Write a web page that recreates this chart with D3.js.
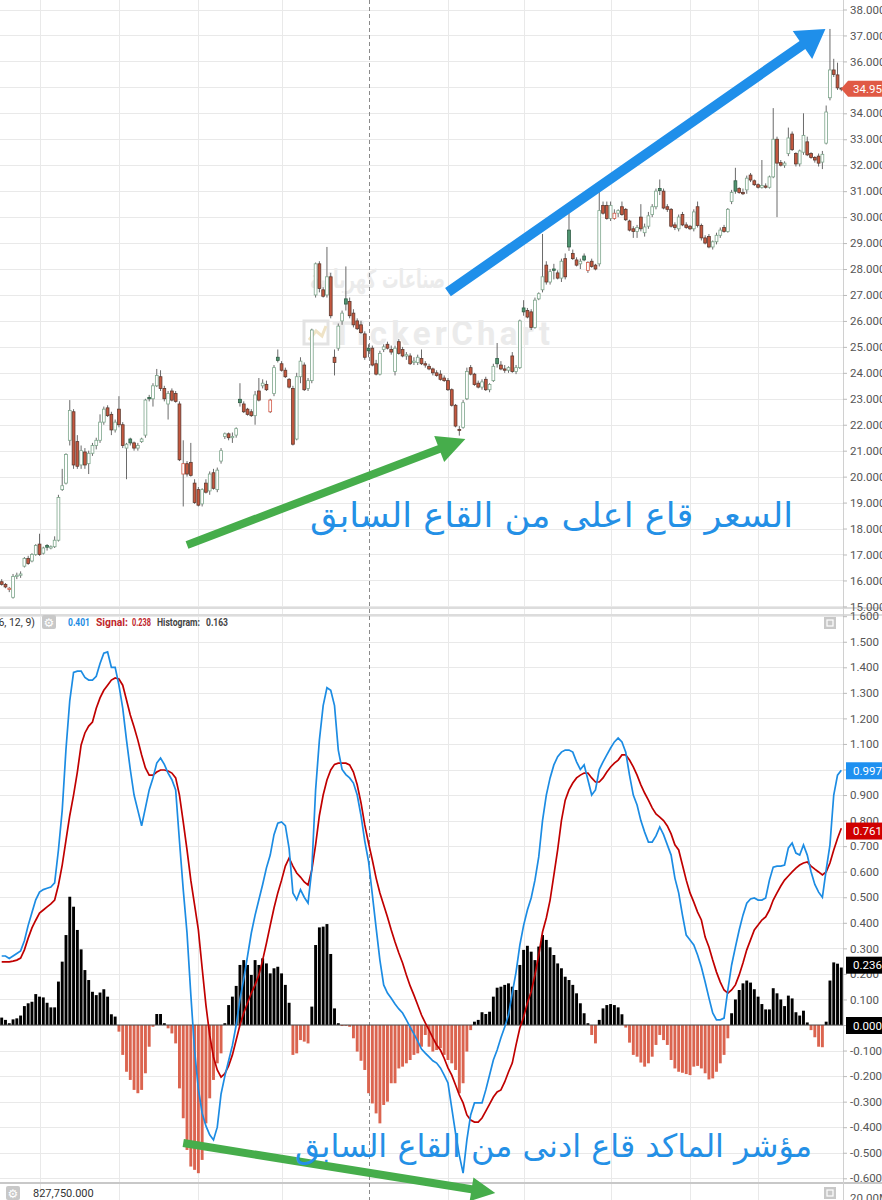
<!DOCTYPE html>
<html>
<head>
<meta charset="utf-8">
<script src="https://d3js.org/d3.v7.min.js"></script>
<style>
  body { margin: 0; background: #fff; }
  svg { display: block; font-family: Roboto, "DejaVu Sans", sans-serif; }
</style>
</head>
<body>
<svg id="chart" width="882" height="1200"></svg>
<script>
// daily candles [open, high, low, close]
var ohlc = [
  [15.95,16.05,15.8,15.85],[15.85,15.9,15.7,15.75],[15.65,15.75,15.55,15.7],[15.35,16.25,15.3,16.15],[16.15,16.3,16.05,16.2],
  [16.2,16.35,16.1,16.25],[16.55,16.9,16.5,16.85],[16.85,16.95,16.6,16.65],[16.75,17.05,16.7,17.0],[17.0,17.4,16.95,17.35],
  [17.4,17.8,16.95,17.0],[17.05,17.3,17.0,17.25],[17.35,17.4,17.15,17.28],[17.25,17.35,17.2,17.3],[17.3,17.7,17.25,17.55],
  [17.55,19.3,17.5,19.2],[19.5,20.3,19.45,19.65],[19.75,20.9,19.7,20.85],[21.4,22.95,21.2,22.55],[22.5,22.6,20.3,20.45],
  [21.35,21.6,20.3,20.4],[20.45,21.2,20.3,21.0],[20.95,21.1,20.3,20.45],[20.5,21.0,20.1,20.9],[20.9,21.3,20.8,21.2],
  [21.2,21.5,21.05,21.4],[21.4,22.4,21.3,22.1],[22.1,22.7,22.0,22.6],[22.65,22.75,22.3,22.35],[22.4,22.5,21.6,21.8],
  [21.8,22.2,21.7,22.1],[22.6,23.1,21.9,22.0],[22.0,22.1,21.1,21.2],[21.1,21.3,19.9,21.25],[21.45,21.5,21.2,21.3],
  [21.3,21.35,21.0,21.1],[21.1,21.3,21.0,21.2],[21.35,21.5,21.3,21.45],[21.6,23.0,21.5,22.95],[23.05,23.15,22.9,23.0],
  [23.0,23.6,22.7,23.5],[23.5,24.15,23.45,23.9],[23.85,24.1,23.3,23.4],[23.4,23.5,22.9,23.0],[22.8,23.3,22.2,23.2],
  [23.3,23.4,22.9,22.95],[23.2,23.3,22.85,22.9],[22.8,22.9,20.6,20.65],[20.1,21.4,18.85,20.5],[20.5,20.6,20.0,20.1],
  [20.55,21.3,20.0,20.05],[19.75,19.9,18.95,19.0],[19.5,19.6,18.85,18.9],[18.95,19.55,18.85,19.5],[19.75,19.9,19.35,19.4],
  [19.45,20.2,19.3,20.1],[20.15,20.3,19.5,19.55],[19.5,20.35,19.4,20.25],[20.6,21.1,20.5,21.0],[21.55,21.7,21.45,21.65],
  [21.65,21.7,21.4,21.5],[21.5,21.7,21.3,21.55],[21.6,21.9,21.5,21.85],[22.98,23.6,22.7,22.85],[22.8,22.9,22.45,22.5],
  [22.6,22.65,22.35,22.4],[22.5,22.6,22.3,22.35],[22.35,23.3,22.0,23.15],[23.3,23.8,22.9,22.95],[23.5,23.75,23.4,23.6],
  [23.55,23.7,23.3,23.35],[22.5,23.0,22.45,22.95],[23.2,24.3,23.1,24.2],[24.6,24.9,24.4,24.48],[24.35,24.45,24.05,24.1],
  [24.1,24.2,23.8,23.85],[23.75,23.8,23.4,23.45],[23.4,23.5,21.2,21.25],[21.45,24.0,21.4,23.85],[23.85,24.6,23.6,24.45],
  [24.3,24.4,23.3,23.35],[23.4,23.8,23.3,23.7],[23.7,25.7,23.6,25.65],[27.0,28.25,26.9,28.2],[28.2,28.3,27.1,27.25],
  [27.2,27.3,26.9,26.95],[27.0,28.85,26.9,27.7],[27.7,27.85,26.1,26.2],[24.6,24.9,23.9,24.4],[24.95,25.9,24.85,25.8],
  [26.0,26.4,25.85,26.3],[26.85,28.1,26.4,26.65],[26.75,26.9,26.1,26.2],[26.3,26.45,25.75,25.85],[26.0,26.1,25.65,25.7],
  [25.85,26.0,25.5,25.55],[25.5,25.6,24.5,24.6],[24.95,25.1,24.6,24.85],[24.95,25.05,24.25,24.3],[24.35,24.5,23.9,23.95],
  [23.95,24.85,23.9,24.75],[24.9,25.1,24.8,25.0],[25.1,25.2,24.9,24.95],[24.9,25.05,24.7,24.8],[24.05,25.05,23.9,24.95],
  [25.2,25.3,24.7,24.75],[24.9,25.0,24.6,24.65],[24.65,24.8,24.5,24.7],[24.65,24.75,24.3,24.35],[24.4,24.6,24.3,24.45],
  [24.4,24.7,24.3,24.6],[24.55,24.9,24.3,24.35],[24.35,24.45,24.2,24.3],[24.25,24.35,24.1,24.15],[24.15,24.2,23.9,24.0],
  [24.0,24.1,23.85,23.9],[23.95,24.1,23.7,23.75],[23.8,23.9,23.65,23.7],[23.7,23.8,23.3,23.35],[23.35,23.4,22.7,22.75],
  [22.75,22.8,21.9,21.95],[21.82,21.95,21.58,21.8],[21.9,22.95,21.85,22.85],[23.0,24.2,22.95,24.05],[24.2,24.3,23.9,23.95],
  [23.95,24.0,23.5,23.55],[23.6,23.7,23.4,23.45],[23.45,23.75,23.35,23.65],[23.75,23.85,23.3,23.35],[23.35,23.6,23.25,23.55],
  [23.7,24.35,23.65,24.25],[24.55,25.15,24.2,24.35],[24.3,24.45,24.1,24.15],[24.15,24.3,24.0,24.1],[24.1,24.25,24.0,24.2],
  [24.65,24.8,24.0,24.05],[24.05,24.3,23.95,24.2],[24.2,26.05,24.15,26.0],[26.5,26.8,26.2,26.35],[26.4,26.5,26.1,26.15],
  [26.35,26.45,25.65,25.75],[25.75,26.9,25.7,26.8],[26.85,27.1,26.8,27.05],[27.2,29.35,27.1,27.7],[28.15,28.3,27.4,27.5],
  [27.5,28.0,27.4,27.9],[28.0,28.2,27.6,27.95],[27.85,27.95,27.6,27.65],[27.65,28.4,27.5,28.3],[28.4,28.6,27.6,27.7],
  [29.5,30.2,28.7,28.85],[28.6,28.75,28.35,28.4],[28.35,28.45,28.1,28.15],[28.2,28.4,28.0,28.3],[28.5,28.6,28.3,28.35],
  [27.95,28.3,27.85,28.25],[28.3,28.4,28.05,28.1],[28.15,28.2,27.95,28.0],[28.2,31.1,28.1,30.25],[30.45,30.6,30.1,30.15],
  [30.45,30.6,29.9,29.95],[29.95,30.6,29.85,30.45],[29.95,30.3,29.9,30.15],[30.15,30.3,30.0,30.25],[30.4,30.6,30.05,30.1],
  [30.3,30.35,29.85,29.9],[29.85,29.9,29.45,29.5],[29.55,29.65,29.2,29.45],[29.45,29.7,29.2,29.6],[30.0,30.5,29.45,29.55],
  [29.4,29.75,29.25,29.62],[29.65,30.2,29.55,30.05],[30.1,30.5,30.0,30.4],[30.4,31.1,30.3,31.0],[31.1,31.45,30.85,31.02],
  [31.0,31.1,30.3,30.35],[30.4,30.5,30.2,30.3],[30.3,30.35,29.6,29.65],[29.7,29.8,29.5,29.6],[29.55,30.1,29.45,30.0],
  [30.1,30.2,29.65,29.7],[29.7,29.8,29.55,29.6],[29.65,29.7,29.5,29.55],[29.55,30.3,29.45,30.2],[30.4,30.6,29.6,29.68],
  [29.68,29.75,29.1,29.2],[29.2,29.3,28.95,29.0],[29.25,29.35,28.8,28.85],[28.85,29.1,28.75,29.05],[29.05,29.4,28.95,29.3],
  [29.3,29.6,29.2,29.5],[29.6,29.7,29.4,29.45],[29.45,30.35,29.4,30.3],[30.6,31.05,30.5,30.95],[31.4,31.9,30.9,31.0],
  [31.1,31.15,30.9,30.95],[30.95,31.1,30.85,30.9],[31.05,31.6,30.9,31.5],[31.62,31.7,31.35,31.43],[31.4,31.45,31.2,31.25],
  [31.25,31.3,31.1,31.15],[31.15,32.2,31.1,31.22],[31.2,31.3,31.1,31.15],[31.15,31.6,31.1,31.55],[31.55,34.2,31.5,33.0],
  [33.0,33.1,30.0,32.08],[32.1,32.2,31.95,32.0],[32.0,32.15,31.9,32.08],[32.45,33.45,32.35,33.05],[33.2,33.3,32.55,32.6],
  [32.45,32.5,31.95,32.05],[32.05,32.6,31.95,32.55],[32.5,34.0,32.4,33.15],[32.9,33.1,32.35,32.4],[32.45,32.5,32.25,32.3],
  [32.3,32.35,32.1,32.2],[32.35,32.45,31.95,32.08],[32.12,32.55,31.85,32.42],[32.85,34.3,32.8,34.05],[34.6,37.25,34.5,35.67],
  [35.67,36.1,35.4,35.5],[35.48,35.95,34.9,34.98],[34.97,35.0,34.85,34.95]
];

// MACD (26, 12, 9)
var macd = [
  0.27,0.27,0.26,0.27,0.28,0.29,0.33,0.39,0.44,0.49,
  0.52,0.53,0.535,0.54,0.556,0.685,0.84,1.08,1.27,1.38,
  1.385,1.385,1.36,1.35,1.35,1.365,1.415,1.455,1.46,1.40,
  1.40,1.33,1.24,1.115,1.00,0.90,0.84,0.78,0.85,0.92,
  0.967,1.025,1.045,1.02,0.986,0.96,0.92,0.72,0.53,0.36,
  0.12,-0.10,-0.25,-0.345,-0.395,-0.43,-0.45,-0.40,-0.27,-0.20,
  -0.14,-0.08,0.0,0.10,0.18,0.27,0.36,0.43,0.49,0.55,
  0.615,0.665,0.745,0.79,0.795,0.78,0.69,0.517,0.49,0.53,
  0.50,0.477,0.61,0.92,1.115,1.25,1.32,1.31,1.25,1.076,
  1.0,0.98,0.967,0.947,0.90,0.82,0.72,0.64,0.51,0.38,
  0.254,0.157,0.125,0.105,0.082,0.063,0.047,0.02,-0.008,-0.035,
  -0.063,-0.094,-0.11,-0.125,-0.14,-0.149,-0.168,-0.196,-0.227,-0.325,
  -0.423,-0.51,-0.58,-0.45,-0.352,-0.305,-0.305,-0.305,-0.254,-0.196,
  -0.137,-0.098,-0.05,-0.008,0.039,0.125,0.207,0.313,0.39,0.45,
  0.497,0.567,0.658,0.80,0.90,0.967,1.018,1.05,1.068,1.076,
  1.076,1.068,1.03,1.0,1.018,0.96,0.90,0.92,1.0,1.03,
  1.057,1.084,1.108,1.123,1.108,1.068,0.978,0.90,0.861,0.80,
  0.755,0.716,0.716,0.74,0.775,0.745,0.705,0.665,0.575,0.517,
  0.43,0.352,0.333,0.313,0.274,0.227,0.168,0.106,0.047,0.02,
  0.02,0.027,0.137,0.235,0.305,0.372,0.43,0.477,0.493,0.497,
  0.489,0.489,0.497,0.567,0.618,0.622,0.622,0.626,0.693,0.712,
  0.673,0.665,0.705,0.665,0.60,0.55,0.52,0.50,0.607,0.705,
  0.90,0.978,0.997
];

var signal = [
  0.247,0.247,0.247,0.25,0.254,0.262,0.294,0.34,0.38,0.41,
  0.438,0.45,0.462,0.474,0.489,0.548,0.626,0.724,0.82,0.90,
  0.99,1.096,1.143,1.17,1.186,1.24,1.28,1.31,1.33,1.35,
  1.358,1.354,1.33,1.272,1.213,1.166,1.115,1.057,1.006,0.978,
  0.978,0.99,0.998,0.998,0.994,0.986,0.967,0.90,0.795,0.685,
  0.567,0.47,0.372,0.223,0.078,-0.04,-0.125,-0.176,-0.204,-0.19,
  -0.16,-0.117,-0.059,0.0,0.047,0.086,0.125,0.157,0.196,0.254,
  0.32,0.39,0.458,0.517,0.567,0.622,0.654,0.622,0.595,0.579,
  0.56,0.548,0.607,0.705,0.82,0.90,0.959,0.998,1.02,1.025,
  1.025,1.025,1.018,0.99,0.94,0.87,0.783,0.712,0.646,0.575,
  0.517,0.47,0.423,0.372,0.325,0.282,0.243,0.196,0.153,0.117,
  0.078,0.039,0.008,-0.02,-0.05,-0.078,-0.098,-0.13,-0.168,-0.196,
  -0.235,-0.274,-0.305,-0.352,-0.372,-0.38,-0.38,-0.364,-0.337,-0.31,
  -0.282,-0.262,-0.254,-0.223,-0.184,-0.149,-0.078,-0.012,0.031,0.086,
  0.13,0.196,0.274,0.364,0.419,0.489,0.587,0.685,0.80,0.88,
  0.92,0.947,0.967,0.978,0.986,0.986,0.967,0.951,0.951,0.967,
  0.99,1.01,1.025,1.037,1.057,1.057,1.037,1.01,0.978,0.94,
  0.908,0.88,0.85,0.826,0.814,0.80,0.779,0.748,0.705,0.685,
  0.626,0.567,0.517,0.481,0.442,0.411,0.344,0.305,0.254,0.207,
  0.168,0.137,0.125,0.137,0.157,0.196,0.243,0.294,0.333,0.372,
  0.391,0.411,0.423,0.45,0.489,0.517,0.544,0.567,0.583,0.599,
  0.614,0.626,0.634,0.638,0.622,0.61,0.599,0.587,0.599,0.634,
  0.685,0.73,0.77
];

var hist = [
  0.029,0.02,0.007,0.022,0.026,0.037,0.074,0.085,0.091,0.121,
  0.111,0.108,0.087,0.069,0.069,0.17,0.248,0.352,0.502,0.463,
  0.372,0.296,0.215,0.176,0.13,0.117,0.127,0.14,0.111,0.042,
  0.033,-0.026,-0.117,-0.183,-0.215,-0.254,-0.267,-0.254,-0.189,-0.085,
  -0.007,0.043,0.043,0.007,-0.013,-0.033,-0.072,-0.248,-0.365,-0.489,
  -0.554,-0.567,-0.58,-0.528,-0.385,-0.287,-0.215,-0.15,-0.111,0.007,
  0.078,0.111,0.153,0.235,0.254,0.235,0.196,0.254,0.235,0.261,
  0.241,0.202,0.222,0.228,0.202,0.157,0.087,-0.117,-0.111,-0.059,
  -0.065,-0.072,0.072,0.313,0.382,0.385,0.395,0.278,0.065,0.007,
  -0.004,-0.003,-0.007,-0.052,-0.104,-0.14,-0.176,-0.267,-0.307,-0.346,
  -0.385,-0.313,-0.30,-0.228,-0.228,-0.17,-0.163,-0.15,-0.137,-0.117,
  -0.111,-0.085,-0.039,-0.085,-0.104,-0.098,-0.091,-0.117,-0.137,-0.15,
  -0.176,-0.267,-0.228,-0.104,-0.02,0.013,0.02,0.05,0.043,0.052,
  0.111,0.146,0.15,0.157,0.163,0.15,0.137,0.235,0.294,0.31,
  0.287,0.254,0.307,0.352,0.333,0.304,0.274,0.241,0.222,0.189,
  0.176,0.157,0.124,0.085,0.046,0.007,-0.039,-0.072,0.02,0.065,
  0.078,0.082,0.078,0.069,0.042,-0.01,-0.069,-0.117,-0.124,-0.147,
  -0.163,-0.15,-0.124,-0.078,-0.039,-0.059,-0.078,-0.137,-0.17,-0.183,
  -0.187,-0.192,-0.196,-0.163,-0.16,-0.17,-0.189,-0.213,-0.209,-0.183,
  -0.15,-0.117,-0.052,0.046,0.1,0.137,0.163,0.174,0.166,0.14,
  0.111,0.082,0.061,0.061,0.144,0.124,0.1,0.074,0.115,0.104,
  0.05,0.037,0.056,0.01,-0.02,-0.048,-0.085,-0.087,0.013,0.174,
  0.245,0.24,0.225
];

var priceTicks = [15,16,17,18,19,20,21,22,23,24,25,26,27,28,29,30,31,32,33,34,35,36,37,38];
var macdTicks = [-0.6,-0.5,-0.4,-0.3,-0.2,-0.1,0,0.1,0.2,0.3,0.4,0.5,0.6,0.7,0.8,0.9,1.0,1.1,1.2,1.3,1.4,1.5,1.6];
var monthStarts = [10, 31, 52, 74, 97, 118, 138, 161, 182, 200];
var crosshairDay = 97;

var lastClose = 34.95, lastMacd = 0.997, lastSignal = 0.761, lastHist = 0.236;
var headerMacd = "0.401", headerSignal = "0.238", headerHist = "0.163";
var volumeText = "827,750.000";

// hand drawn annotations, in [day, value]
var blueArrow = [[118, 27.11], [217.8, 37.25]];
var greenArrowPrice = [[49, 17.37], [122.6, 21.45]];
var greenArrowMacd = [[48, -0.462], [130.5, -0.658]];
var priceNote = "السعر قاع اعلى من القاع السابق";
var macdNote = "مؤشر الماكد قاع ادنى من القاع السابق";

var svg = d3.select("#chart");
var plotRight = 843;

var x = d3.scaleLinear().domain([0, ohlc.length - 1]).range([1.7, 841.3]);
var yP = d3.scaleLinear().domain([15, 38]).range([606.4, 9.5]);
var yM = d3.scaleLinear().domain([-0.6, 1.6]).range([1178.3, 616.2]);

var defs = svg.append("defs");
defs.append("clipPath").attr("id", "clipP").append("rect")
  .attr("x", 0).attr("y", 0).attr("width", plotRight).attr("height", 607);
defs.append("clipPath").attr("id", "clipM").append("rect")
  .attr("x", 0).attr("y", 616).attr("width", plotRight).attr("height", 567);

// grid
var grid = svg.append("g").attr("stroke", "#e9e9e9").attr("stroke-width", 1);
grid.selectAll(".hp").data(priceTicks).enter().append("line")
  .attr("x1", 0).attr("x2", plotRight)
  .attr("y1", function(d) { return Math.round(yP(d)) + 0.5; })
  .attr("y2", function(d) { return Math.round(yP(d)) + 0.5; });
grid.selectAll(".hm").data(macdTicks).enter().append("line")
  .attr("x1", 0).attr("x2", plotRight)
  .attr("y1", function(d) { return Math.round(yM(d)) + 0.5; })
  .attr("y2", function(d) { return Math.round(yM(d)) + 0.5; });
grid.selectAll(".v").data(monthStarts.filter(function(d) { return d != crosshairDay; })).enter().append("line")
  .attr("x1", function(d) { return Math.round(x(d)) + 0.5; })
  .attr("x2", function(d) { return Math.round(x(d)) + 0.5; })
  .attr("y1", 0).attr("y2", 1200);

// watermark
var wm = svg.append("g").attr("fill", "#ebebeb");
wm.append("text").attr("x", 445).attr("y", 288).attr("text-anchor", "end")
  .attr("font-family", "DejaVu Sans").attr("font-weight", "bold").attr("font-size", 26)
  .attr("textLength", 135).attr("lengthAdjust", "spacingAndGlyphs")
  .text("صناعات كهربائية");
wm.append("rect").attr("x", 304).attr("y", 321).attr("width", 24).attr("height", 23)
  .attr("fill", "none").attr("stroke", "#e3e3e3").attr("stroke-width", 3);
wm.append("path").attr("d", "M309,340 L316,331 L322,336 L326,326").attr("fill", "none")
  .attr("stroke", "#efe3c6").attr("stroke-width", 3);
wm.append("text").attr("x", 332).attr("y", 345).attr("font-weight", "bold")
  .attr("font-size", 33).attr("textLength", 218).text("TickerChart");

// separators between panels
svg.append("line").attr("x1", 0).attr("x2", 882).attr("y1", 608).attr("y2", 608)
  .attr("stroke", "#dcdcdc").attr("stroke-width", 2);
svg.append("line").attr("x1", 0).attr("x2", 882).attr("y1", 615).attr("y2", 615)
  .attr("stroke", "#dcdcdc").attr("stroke-width", 2);
svg.append("line").attr("x1", 0).attr("x2", 882).attr("y1", 1183).attr("y2", 1183)
  .attr("stroke", "#c8c8c8").attr("stroke-width", 2);

// crosshair
svg.append("line")
  .attr("x1", Math.round(x(crosshairDay)) + 0.5).attr("x2", Math.round(x(crosshairDay)) + 0.5)
  .attr("y1", 0).attr("y2", 1200)
  .attr("stroke", "#8a8a8a").attr("stroke-dasharray", "4,3");

// candles
function candleStyle(d, i) {
  var prev = i > 0 ? ohlc[i - 1][3] : d[0];
  var hollow = d[3] >= d[0];
  var up = d[3] >= prev;
  if (hollow && up) return { fill: "#ffffff", stroke: "#7ea68c" };
  if (hollow) return { fill: "#ffffff", stroke: "#d35a48" };
  if (up) return { fill: "#4f9470", stroke: "#2f5c44" };
  return { fill: "#c5573e", stroke: "#5e3a30" };
}
var pricePane = svg.append("g").attr("clip-path", "url(#clipP)");
var candles = pricePane.selectAll(".candle").data(ohlc).enter().append("g");
candles.append("line")
  .attr("x1", function(d, i) { return x(i); })
  .attr("x2", function(d, i) { return x(i); })
  .attr("y1", function(d) { return yP(d[1]); })
  .attr("y2", function(d) { return yP(d[2]); })
  .attr("stroke", "#6a6a6a").attr("stroke-width", 1);
candles.append("rect")
  .attr("x", function(d, i) { return x(i) - 1.4; })
  .attr("width", 2.8)
  .attr("y", function(d) { return yP(Math.max(d[0], d[3])); })
  .attr("height", function(d) { return Math.max(1, Math.abs(yP(d[0]) - yP(d[3]))); })
  .attr("fill", function(d, i) { return candleStyle(d, i).fill; })
  .attr("stroke", function(d, i) { return candleStyle(d, i).stroke; })
  .attr("stroke-width", 0.8);

// macd pane
var macdPane = svg.append("g").attr("clip-path", "url(#clipM)");
macdPane.selectAll(".bar").data(hist).enter().append("rect")
  .attr("x", function(d, i) { return x(i) - 1.45; })
  .attr("width", 2.9)
  .attr("y", function(d) { return yM(Math.max(0, d)); })
  .attr("height", function(d) { return Math.abs(yM(d) - yM(0)); })
  .attr("fill", function(d) { return d >= 0 ? "#000000" : "#db644f"; });
macdPane.append("line").attr("x1", 0).attr("x2", plotRight)
  .attr("y1", yM(0)).attr("y2", yM(0)).attr("stroke", "#444").attr("stroke-width", 1);

var line = d3.line().x(function(d, i) { return x(i); }).y(function(d) { return yM(d); });
macdPane.append("path").datum(signal).attr("d", line)
  .attr("fill", "none").attr("stroke", "#c00000").attr("stroke-width", 1.7);
macdPane.append("path").datum(macd).attr("d", line)
  .attr("fill", "none").attr("stroke", "#1c8ce3").attr("stroke-width", 1.7);

// right axes
svg.append("line").attr("x1", plotRight + 0.5).attr("x2", plotRight + 0.5)
  .attr("y1", 0).attr("y2", 1200).attr("stroke", "#d0d0d0");
var axisP = svg.append("g").attr("transform", "translate(" + plotRight + ",0)")
  .call(d3.axisRight(yP).tickValues(priceTicks).tickFormat(d3.format(".3f")).tickSize(4).tickPadding(3));
var axisM = svg.append("g").attr("transform", "translate(" + plotRight + ",0)")
  .call(d3.axisRight(yM).tickValues(macdTicks).tickFormat(d3.format(".3f")).tickSize(4).tickPadding(3));
[axisP, axisM].forEach(function(a) {
  a.select(".domain").remove();
  a.selectAll(".tick line").attr("stroke", "#bbb");
  a.selectAll(".tick text").attr("fill", "#555").attr("font-size", 11.5)
    .attr("font-family", "Roboto, sans-serif")
    .text(function(d) { return d3.format(".3f")(d).replace("−", "-"); });
});

// value tags
function tag(y, txt, color, pointer) {
  var g = svg.append("g");
  if (pointer) {
    g.append("path").attr("d", "M841," + y + " L848," + (y - 8) + " L882," + (y - 8) + " L882," + (y + 8) + " L848," + (y + 8) + " Z")
      .attr("fill", color);
  } else {
    g.append("rect").attr("x", 846).attr("y", y - 8).attr("width", 36).attr("height", 17).attr("fill", color);
  }
  g.append("text").attr("x", 853).attr("y", y + 4.5).attr("fill", "#fff")
    .attr("font-size", 11.5).text(txt);
}
tag(yP(lastClose), d3.format(".3f")(lastClose), "#e05a45", true);
tag(yM(lastMacd), d3.format(".3f")(lastMacd), "#1e90f0", false);
tag(yM(lastSignal), d3.format(".3f")(lastSignal), "#d00000", false);
tag(yM(lastHist), d3.format(".3f")(lastHist), "#000000", false);
tag(yM(0), d3.format(".3f")(0), "#000000", false);

// macd header
function gear(gx, gy) {
  var g = svg.append("g");
  g.append("rect").attr("x", gx).attr("y", gy).attr("width", 14).attr("height", 14).attr("rx", 2).attr("fill", "#c8c8c8");
  g.append("text").attr("x", gx + 7).attr("y", gy + 11.5).attr("text-anchor", "middle")
    .attr("font-family", "DejaVu Sans").attr("font-size", 12).attr("fill", "#fff").text("⚙");
}
var head = svg.append("g").attr("font-size", 10.5).attr("font-weight", "bold");
head.append("text").attr("x", 35).attr("y", 626).attr("text-anchor", "end").attr("fill", "#333")
  .attr("font-weight", "normal").text("MACD (26, 12, 9)");
gear(42, 615);
var headerParts = [
  { t: headerMacd, c: "#1c8ce3", x: 68, w: 22 },
  { t: "Signal:", c: "#c0262b", x: 96, w: 32 },
  { t: headerSignal, c: "#c0262b", x: 132, w: 19 },
  { t: "Histogram:", c: "#444", x: 157, w: 43 },
  { t: headerHist, c: "#444", x: 206, w: 22 }
];
headerParts.forEach(function(p) {
  head.append("text").attr("x", p.x).attr("y", 626).attr("fill", p.c)
    .attr("textLength", p.w).attr("lengthAdjust", "spacingAndGlyphs").text(p.t);
});

function boxIcon(bx, by) {
  svg.append("rect").attr("x", bx).attr("y", by).attr("width", 12).attr("height", 12).attr("fill", "#c8c8c8");
  svg.append("rect").attr("x", bx + 3).attr("y", by + 3).attr("width", 6).attr("height", 6)
    .attr("fill", "none").attr("stroke", "#fff").attr("stroke-width", 1.2);
}
boxIcon(824, 617);
boxIcon(824, 1187);

// volume pane strip
gear(6, 1186);
svg.append("text").attr("x", 33).attr("y", 1197).attr("font-size", 11).attr("fill", "#333").text(volumeText);
svg.append("text").attr("x", 850).attr("y", 1202).attr("font-size", 11.5).attr("fill", "#555").text("20.00M");

// arrows
function arrow(pts, sy, color, w, headLen, headW) {
  var x0 = x(pts[0][0]), y0 = sy(pts[0][1]), x1 = x(pts[1][0]), y1 = sy(pts[1][1]);
  var dx = x1 - x0, dy = y1 - y0, len = Math.sqrt(dx * dx + dy * dy);
  var ux = dx / len, uy = dy / len, nx = -uy, ny = ux;
  var bx = x1 - ux * headLen, by = y1 - uy * headLen;
  var p = [
    [x0 + nx * w / 2, y0 + ny * w / 2],
    [bx + nx * w / 2, by + ny * w / 2],
    [bx + nx * headW / 2, by + ny * headW / 2],
    [x1, y1],
    [bx - nx * headW / 2, by - ny * headW / 2],
    [bx - nx * w / 2, by - ny * w / 2],
    [x0 - nx * w / 2, y0 - ny * w / 2]
  ];
  svg.append("path").attr("d", "M" + p.join("L") + "Z").attr("fill", color);
}
arrow(blueArrow, yP, "#1f8fea", 10, 28, 34);
arrow(greenArrowPrice, yP, "#46ad4b", 8, 28, 28);
arrow(greenArrowMacd, yM, "#46ad4b", 8, 24, 24);

// notes
svg.append("text").attr("x", 793).attr("y", 527).attr("text-anchor", "end")
  .attr("font-family", "DejaVu Sans").attr("font-size", 34).attr("fill", "#2490e6")
  .attr("textLength", 483).attr("lengthAdjust", "spacingAndGlyphs").text(priceNote);
svg.append("text").attr("x", 812).attr("y", 1157).attr("text-anchor", "end")
  .attr("font-family", "DejaVu Sans").attr("font-size", 32).attr("fill", "#2490e6")
  .attr("textLength", 517).attr("lengthAdjust", "spacingAndGlyphs").text(macdNote);
</script>
</body>
</html>
